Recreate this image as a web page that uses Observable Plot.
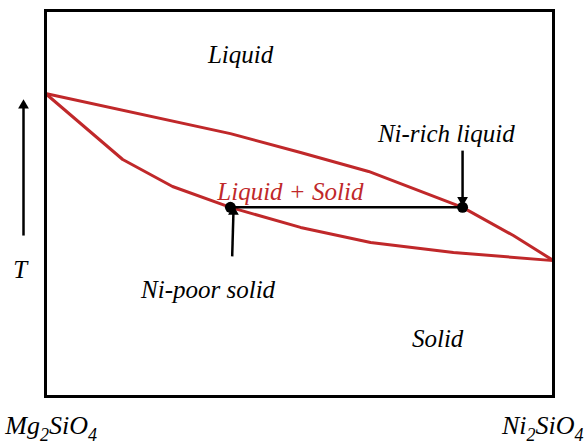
<!DOCTYPE html>
<html>
<head>
<meta charset="utf-8">
<script src="https://cdn.jsdelivr.net/npm/d3@7"></script>
<script src="https://cdn.jsdelivr.net/npm/@observablehq/plot@0.6"></script>
</head>
<body style="margin:0; background:#fff">
<div id="chart"></div>
<script>
// Composition (% Ni2SiO4) and temperature (relative %, 0 = bottom, 100 = top of box)
const liquidusX = [0, 36.4, 50.2, 63.6, 82.1, 92.1, 100];
const liquidusT = [78.5, 68.1, 63.2, 58.3, 49.0, 41.7, 35.2];
const solidusX = [0, 15.2, 25.0, 36.4, 50.2, 64.0, 80.3, 100];
const solidusT = [78.5, 61.4, 54.4, 49.0, 43.8, 39.9, 37.3, 35.2];

// Tie line at one temperature
const tieT = 49.0;
const tieX = [36.4, 82.1];

// Arrows: from (x1, T1) to (x2, T2)
const arrowX1 = [82.1, 36.75, -4.33];
const arrowT1 = [63.7, 36.3, 41.7];
const arrowX2 = [82.1, 37.0, -4.33];
const arrowT2 = [50.9, 47.9, 75.4];
const arrowRot = [180, 0, 0];

// Labels
const labelText = ["Liquid", "Ni-rich liquid", "Liquid + Solid", "Ni-poor solid", "Solid", "T"];
const labelX = [38.4, 78.9, 48.2, 32.0, 77.2, -5.0];
const labelT = [86.5, 65.9, 51.0, 25.6, 12.7, 30.8];
const labelColor = ["black", "black", "#c0282a", "black", "black", "black"];

// End-member labels
const endLeft = "Mg₂SiO₄";
const endRight = "Ni₂SiO₄";
const endLeftX = -7.9;
const endRightX = 105.9;
const endT = -9.8;

const red = "#c0282a";
const liquidus = liquidusX.map((x, i) => ({x, T: liquidusT[i]}));
const solidus = solidusX.map((x, i) => ({x, T: solidusT[i]}));
const tie = tieX.map(x => ({x, T: tieT}));
const arrows = arrowX1.map((x1, i) => ({x1, T1: arrowT1[i], x2: arrowX2[i], T2: arrowT2[i], rot: arrowRot[i]}));
const labels = labelText.map((t, i) => ({t, x: labelX[i], T: labelT[i], c: labelColor[i]}));

const font = "Liberation Serif";

const plot = Plot.plot({
  width: 586,
  height: 447,
  marginLeft: 45,
  marginRight: 33,
  marginTop: 10,
  marginBottom: 51,
  x: {domain: [0, 100], axis: null},
  y: {domain: [0, 100], axis: null},
  style: {background: "white", overflow: "visible"},
  marks: [
    Plot.line(liquidus, {x: "x", y: "T", stroke: red, strokeWidth: 3}),
    Plot.line(solidus, {x: "x", y: "T", stroke: red, strokeWidth: 3}),
    Plot.line(tie, {x: "x", y: "T", stroke: "black", strokeWidth: 2.5}),
    Plot.dot(tie, {x: "x", y: "T", r: 5.5, fill: "black"}),
    Plot.link(arrows, {x1: "x1", y1: "T1", x2: "x2", y2: "T2", stroke: "black", strokeWidth: 2.5}),
    Plot.dot(arrows, {x: "x2", y: "T2", symbol: "triangle", r: 4, fill: "black", rotate: "rot"}),
    Plot.frame({stroke: "black", strokeWidth: 3}),
    Plot.text(labels, {x: "x", y: "T", text: "t", fill: "c", textAnchor: "middle", fontFamily: font, fontStyle: "italic", fontSize: 25, lineAnchor: "bottom"}),
    Plot.text([endLeft], {x: endLeftX, y: endT, text: d => d, fill: "black", textAnchor: "start", fontFamily: font, fontStyle: "italic", fontSize: 26, lineAnchor: "bottom"}),
    Plot.text([endRight], {x: endRightX, y: endT, text: d => d, fill: "black", textAnchor: "end", fontFamily: font, fontStyle: "italic", fontSize: 26, lineAnchor: "bottom"})
  ]
});
document.getElementById("chart").appendChild(plot);

// Render subscript digits as lowered, smaller tspans
const subMap = {"₂": "2", "₄": "4"};
d3.select(plot).selectAll("text").each(function() {
  const s = this.textContent;
  if (!/[₂₄]/.test(s)) return;
  const el = d3.select(this);
  el.text(null);
  let buf = "";
  let lowered = false;
  for (const ch of s) {
    if (subMap[ch]) {
      if (buf) { el.append("tspan").attr("dy", lowered ? -7 : null).text(buf); buf = ""; lowered = false; }
      el.append("tspan").attr("font-size", 18).attr("dy", lowered ? null : 7).text(subMap[ch]);
      lowered = true;
    } else {
      buf += ch;
    }
  }
  if (buf) el.append("tspan").attr("dy", lowered ? -7 : null).text(buf);
});
</script>
</body>
</html>
